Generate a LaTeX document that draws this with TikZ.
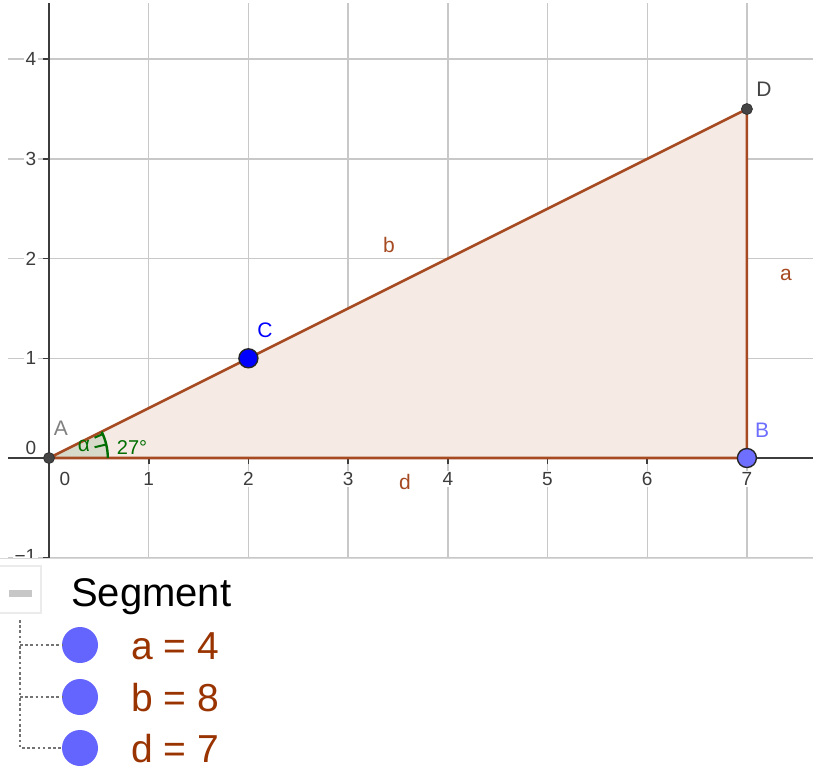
\documentclass[tikz,border=0pt]{standalone}
\usepackage{fontspec}
\setmainfont{Liberation Sans}
\usetikzlibrary{calc}
\definecolor{brn}{RGB}{166,74,34}
\definecolor{algbrn}{RGB}{153,51,0}
\definecolor{polyfill}{RGB}{245,234,228}
\definecolor{gridc}{RGB}{200,200,200}
\definecolor{axisc}{RGB}{60,60,60}
\definecolor{agreen}{RGB}{0,110,0}
\definecolor{ptblue}{RGB}{0,0,255}
\definecolor{ptlight}{RGB}{110,110,255}
\definecolor{algblue}{RGB}{100,100,255}
\definecolor{ptdark}{RGB}{68,68,68}
\tikzset{
  gridline/.style={draw=gridc, line width=1.4pt},
  axisline/.style={draw=axisc, line width=2pt},
  tickline/.style={draw=axisc, line width=1.6pt},
  numlbl/.style={font=\fontsize{19}{22}\selectfont, text=axisc, fill=white, inner sep=1.5pt},
  ptlbl/.style={font=\fontsize{21}{24}\selectfont, inner sep=0pt},
  seglbl/.style={font=\fontsize{21}{24}\selectfont, text=brn, inner sep=0pt},
  smallpt/.style={circle, fill=ptdark, draw=black!80, line width=0.8pt, minimum size=11pt, inner sep=0pt},
  bigpt/.style={circle, draw=black!85, line width=1.4pt, minimum size=19pt, inner sep=0pt},
  algdot/.style={circle, fill=algblue, minimum size=36pt, inner sep=0pt},
  algtxt/.style={font=\fontsize{39}{42}\selectfont, text=algbrn, anchor=west, inner sep=0pt},
  treeline/.style={draw=black!55, line width=2.6pt, dash pattern=on 2.6pt off 2.6pt}
}
\begin{document}
\begin{tikzpicture}[x=1pt,y=-1pt]
\useasboundingbox[fill=white] (0,0) rectangle (813,773);
% ---------------- graphics view ----------------
\begin{scope}
\clip (8,4) rectangle (813,558);
\begin{scope}[shift={(49,458)},x=99.7pt,y=99.7pt]
  \foreach \i in {1,...,7} \draw[gridline] (\i,-1.2) -- (\i,4.7);
  \foreach \j in {-1,...,4} \draw[gridline] (-0.45,\j) -- (7.7,\j);
  \coordinate (A) at (0,0);
  \coordinate (B) at (7,0);
  \coordinate (D) at (7,3.5);
  \coordinate (C) at (2,1);
  \fill[polyfill] (A) -- (B) -- (D) -- cycle;
  % angle
  \fill[agreen, opacity=0.12] (A) -- (0.59,0) arc[start angle=0, end angle=26.565, radius=0.59] -- cycle;
  % axes
  \draw[axisline] (-0.42,0) -- (7.7,0);
  \draw[axisline] (0,-1.2) -- (0,4.56);
\end{scope}
% axis number labels (pixel coords)
\foreach \k in {1,...,7} {
  \draw[tickline] ({49+99.7*\k},458) -- ({49+99.7*\k},464);
  \node[numlbl] (xl\k) at ({49+99.7*\k},479) {\k};
}
\node[numlbl] (xl0) at (65,479) {0};
\foreach \k in {1,...,4} {
  \draw[tickline] (49,{458-99.7*\k}) -- (43,{458-99.7*\k});
  \node[numlbl, anchor=east] (yl\k) at (38,{458-99.7*\k}) {\k};
}
\node[numlbl, anchor=east] (yl0) at (38,448) {0};
\node[numlbl, anchor=east] (ylm1) at (38,556) {\char"2212 1};
\draw[tickline] (49,558) -- (43,558);
% triangle edges
\draw[draw=brn, line width=2.6pt, line join=round] (A) -- (B) -- (D) -- cycle;
% angle decoration
\begin{scope}[shift={(49,458)},x=99.7pt,y=99.7pt]
  \draw[agreen, line width=2.4pt] (0.59,0) arc[start angle=0, end angle=26.565, radius=0.59];
  \draw[agreen, line width=2pt] (13.3:0.59) -- (13.3:0.47);
  \draw[agreen, line width=2pt] (24:0.59) -- (24:0.5);
\end{scope}
\node[font=\fontsize{21}{24}\selectfont, text=agreen, inner sep=0pt] (alpha) at (84,446) {α};
\node[font=\fontsize{20}{24}\selectfont, text=agreen, inner sep=0pt] (ang) at (132,448) {27°};
% points
\node[smallpt] (pA) at (A) {};
\node[smallpt] (pD) at (D) {};
\node[bigpt, fill=ptblue] (pC) at (C) {};
\node[bigpt, fill=ptlight] (pB) at (B) {};
% point labels
\node[ptlbl, text=gray] (lA) at (61,428) {A};
\node[ptlbl, text=ptdark] (lD) at (764,89) {D};
\node[ptlbl, text=ptlight] (lB) at (762,430) {B};
\node[ptlbl, text=ptblue] (lC) at (265,330) {C};
% segment labels
\node[seglbl] (lb) at (389,245) {b};
\node[seglbl] (la) at (786,275) {a};
\node[seglbl] (ld) at (405,482) {d};
\end{scope}
\draw[gridc!70, line width=1.2pt] (0,558.5) -- (813,558.5);
% ---------------- algebra view ----------------
\draw[draw=black!8, line width=1.6pt] (-2,566) rectangle (41,613);
\fill[black!22] (9,590) rectangle (32,597);
\node[font=\fontsize{40}{44}\selectfont, anchor=west, inner sep=0pt] (seg) at (71,597) {Segment};
\coordinate (t0) at (20,620);
\coordinate (t1) at (20,645);
\coordinate (t2) at (20,697);
\coordinate (t3) at (20,748);
\node[algdot] (da) at (80,645) {};
\node[algdot] (db) at (80,697) {};
\node[algdot] (dd) at (80,748) {};
\draw[treeline] (t0) -- (t3) -- (dd.west);
\draw[treeline] (t1) -- (da.west);
\draw[treeline] (t2) -- (db.west);
\node[algtxt] (ta) at (131,646) {a = 4};
\node[algtxt] (tb) at (131,698) {b = 8};
\node[algtxt] (td) at (131,749) {d = 7};
\end{tikzpicture}
\end{document}
